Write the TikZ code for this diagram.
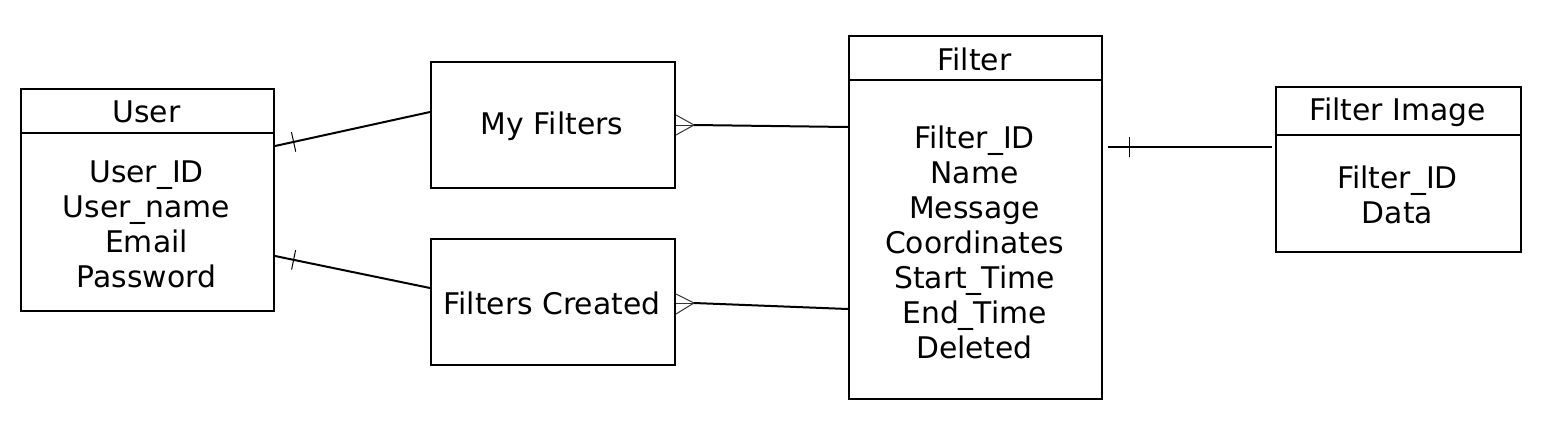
\documentclass[tikz,border=0pt]{standalone}
\usepackage{fontspec}
\setmainfont{DejaVu Sans}
\begin{document}
\begin{tikzpicture}[x=0.5pt,y=-0.5pt,
  box/.style={draw,line width=1pt,rectangle,anchor=north west,inner sep=0pt},
  txt/.style={align=center,font=\fontsize{14.9pt}{17.5pt}\selectfont,inner sep=0pt},
  conn/.style={line width=1pt},
  tick/.style={sloped,draw,line width=0.5pt,minimum width=0pt,minimum height=10pt,inner sep=0pt,rectangle},
  foot/.style={line width=0.5pt,draw=black!80}]
\useasboundingbox (0,0) rectangle (1542,434);
% boxes
\node[box,minimum width=126.5pt,minimum height=111pt] (user) at (20,88) {};
\node[box,minimum width=122pt,minimum height=63pt] (myf) at (430,61) {};
\node[box,minimum width=122pt,minimum height=63pt] (fc) at (430,238) {};
\node[box,minimum width=126.5pt,minimum height=181.5pt] (filter) at (848,35) {};
\node[box,minimum width=122.5pt,minimum height=82.5pt] (fimg) at (1275,86) {};
% header lines
\draw[conn] ([yshift=-22.5pt]user.north west) -- ([yshift=-22.5pt]user.north east);
\draw[conn] ([yshift=-22.5pt]filter.north west) -- ([yshift=-22.5pt]filter.north east);
\draw[conn] ([yshift=-24.5pt]fimg.north west) -- ([yshift=-24.5pt]fimg.north east);
% texts
\node[txt] (userh) at (146.5,112) {User};
\node[txt] (userb) at (146.5,224) {User\_ID\\User\_name\\Email\\Password};
\node[txt] (myft) at (552,126) {My Filters};
\node[txt] (fct) at (552,303) {Filters Created};
\node[txt] (filterh) at (974.5,59) {Filter};
\node[txt] (filterb) at (974.5,242) {Filter\_ID\\Name\\Message\\Coordinates\\Start\_Time\\End\_Time\\Deleted};
\node[txt] (fimgh) at (1397.5,112) {Filter Image};
\node[txt] (fimgb) at (1397.5,195) {Filter\_ID\\Data};
% connectors User -> My Filters / Filters Created
\draw[conn] ([yshift=-29pt]user.north east) -- node[tick,pos=0.12]{} ([yshift=-25.5pt]myf.north west);
\draw[conn] ([yshift=-84pt]user.north east) -- node[tick,pos=0.12]{} ([yshift=-25pt]fc.north west);
% crow's feet
\coordinate (a1) at (694,125);
\coordinate (a2) at (694,303);
\draw[foot] ([yshift=-27pt]myf.north east) -- (a1);
\draw[foot] ([yshift=-32pt]myf.north east) -- (a1);
\draw[foot] ([yshift=-37pt]myf.north east) -- (a1);
\draw[foot] ([yshift=-28pt]fc.north east) -- (a2);
\draw[foot] ([yshift=-32.5pt]fc.north east) -- (a2);
\draw[foot] ([yshift=-38pt]fc.north east) -- (a2);
\draw[conn] (a1) -- ([yshift=-46pt]filter.north west);
\draw[conn] (a2) -- ([yshift=-137pt]filter.north west);
% Filter -> Filter Image
\draw[conn] ([xshift=2.5pt,yshift=-56pt]filter.north east) -- node[tick,pos=0.13]{} ([xshift=-1.5pt,yshift=-30.5pt]fimg.north west);
\end{tikzpicture}
\end{document}
